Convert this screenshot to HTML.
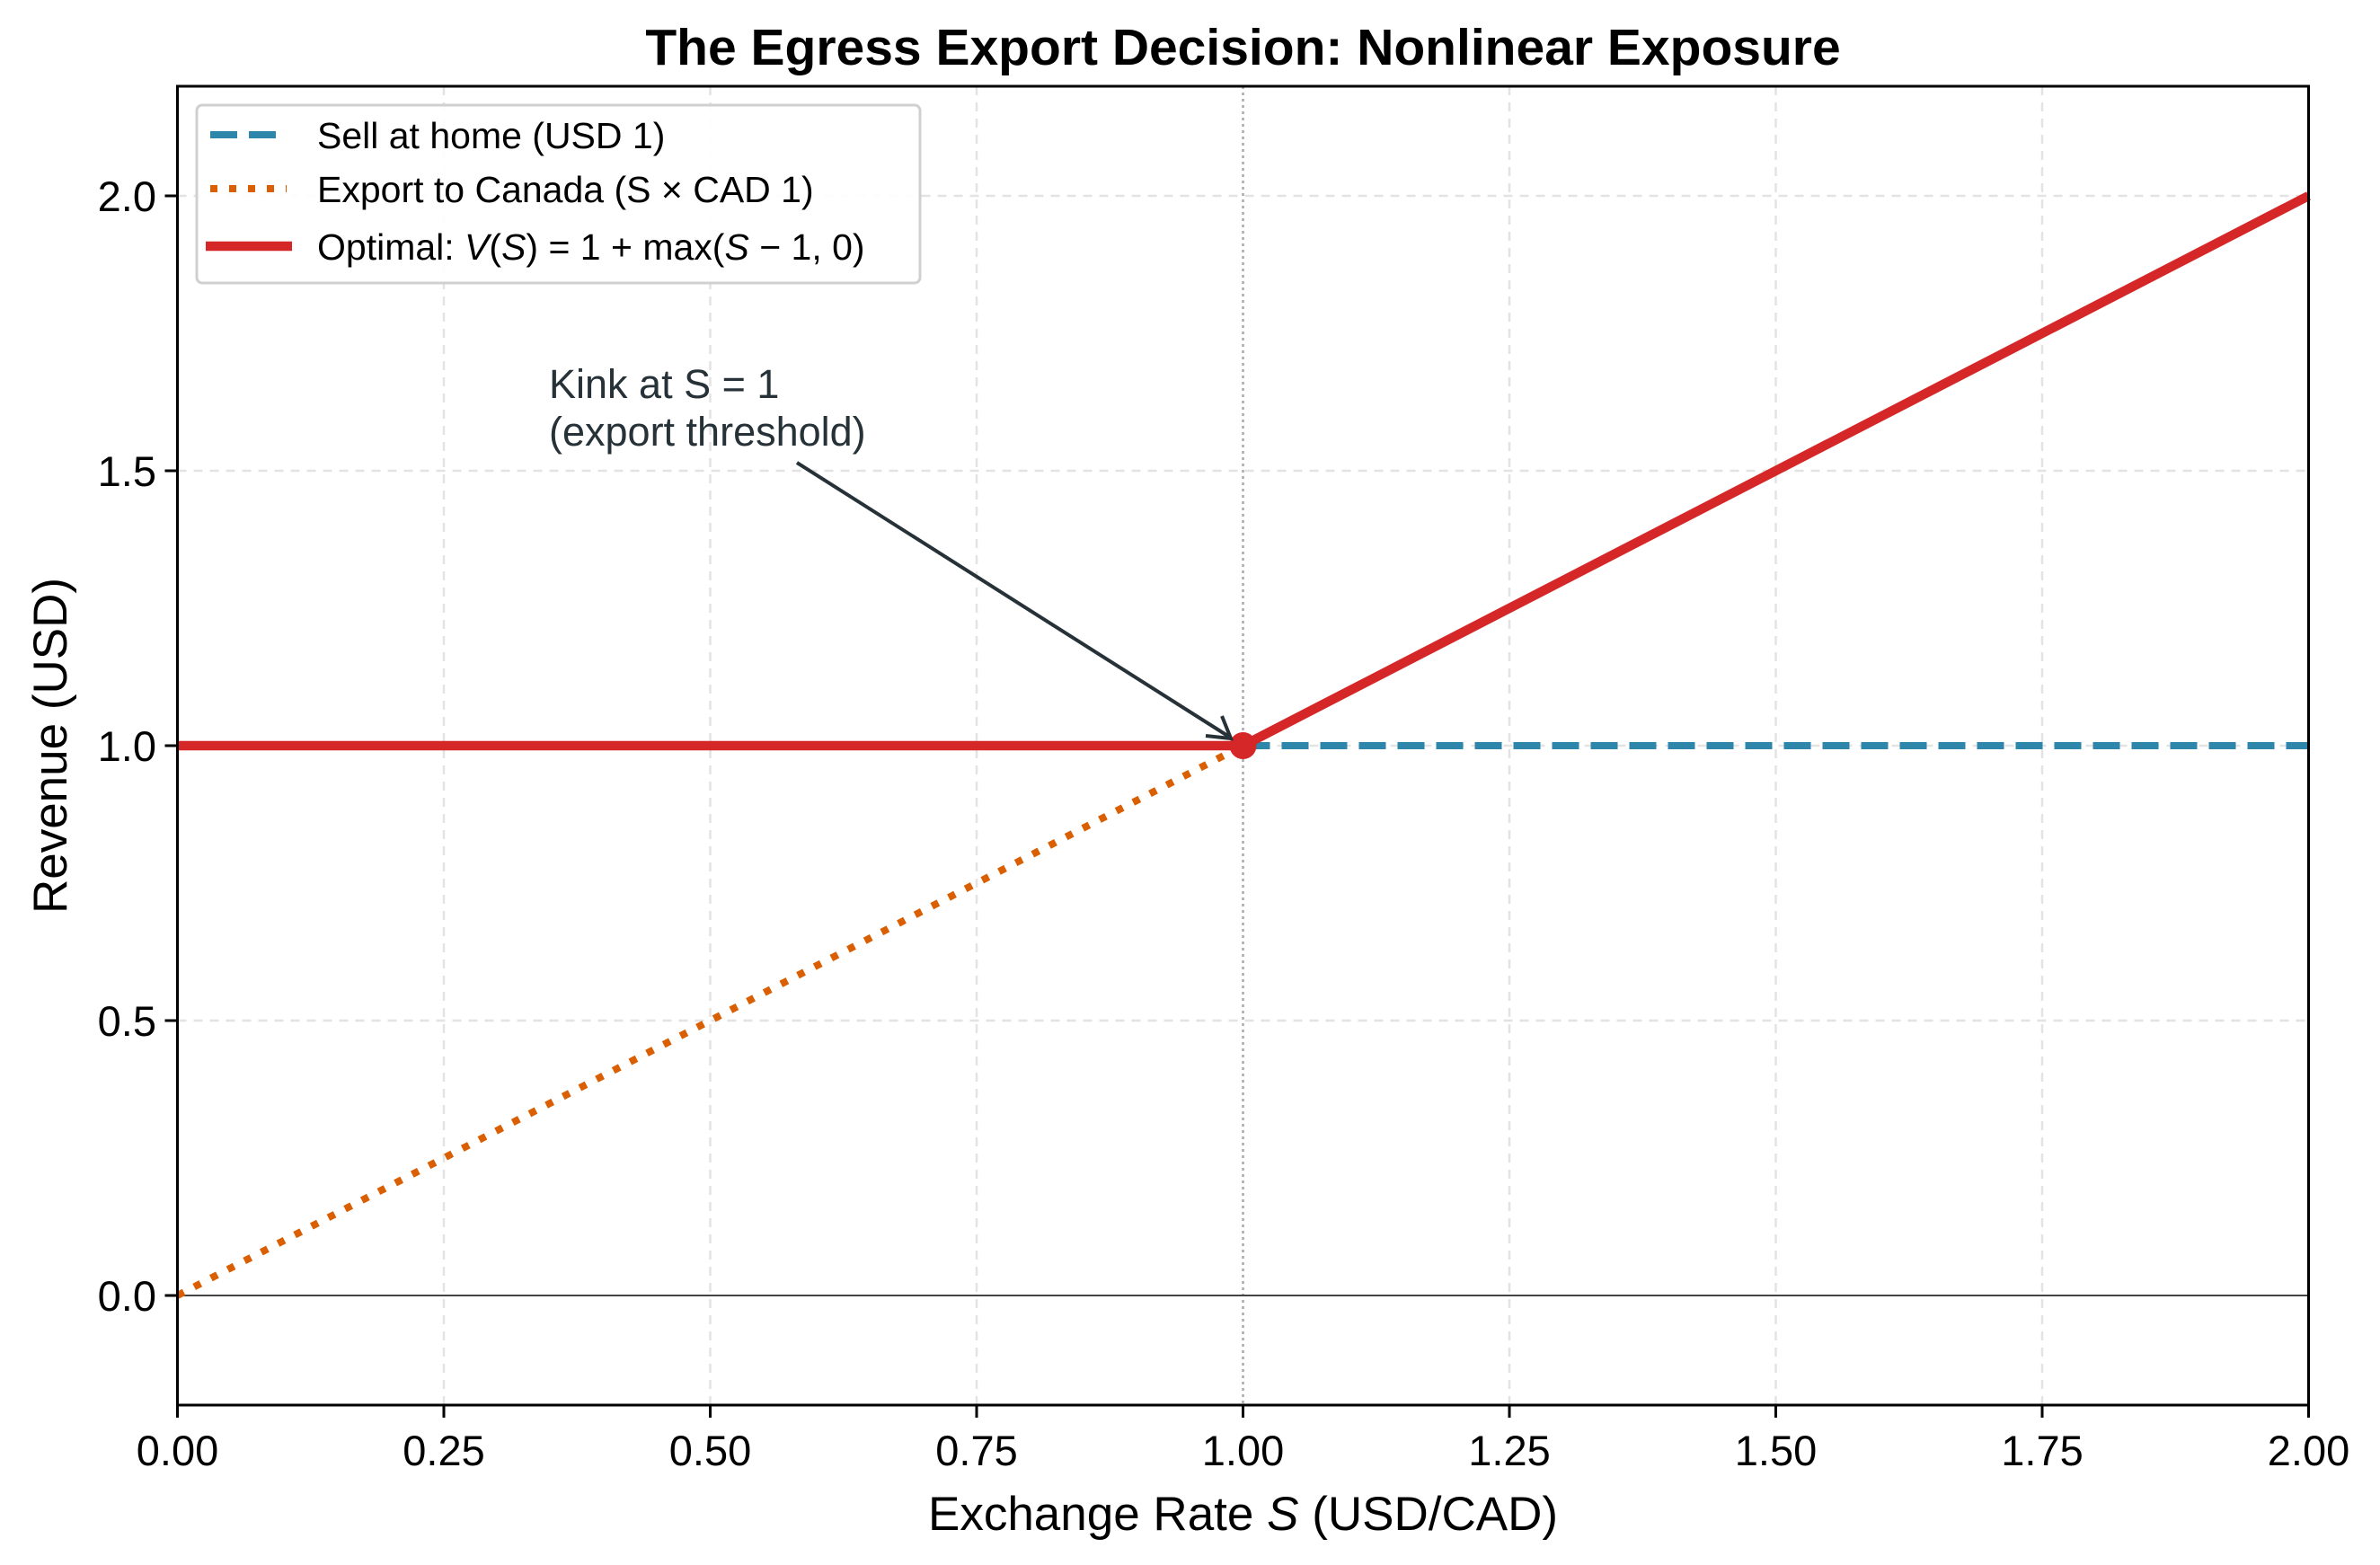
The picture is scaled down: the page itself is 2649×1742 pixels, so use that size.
<!DOCTYPE html>
<html><head><meta charset="utf-8"><style>html,body{margin:0;padding:0;background:#fff}svg{display:block}</style></head>
<body>
<svg width="2649" height="1742" viewBox="0 0 2649 1742" xmlns="http://www.w3.org/2000/svg" font-family="'Liberation Sans', Arial, sans-serif">
<rect width="2649" height="1742" fill="#fff"/>
<!-- grid -->
<g stroke="#e3e3e3" stroke-width="2.5" stroke-dasharray="10,8">
<line x1="494" y1="96" x2="494" y2="1564"/><line x1="790.5" y1="96" x2="790.5" y2="1564"/><line x1="1087" y1="96" x2="1087" y2="1564"/><line x1="1680" y1="96" x2="1680" y2="1564"/><line x1="1976.5" y1="96" x2="1976.5" y2="1564"/><line x1="2273" y1="96" x2="2273" y2="1564"/>
<line x1="197.5" y1="218" x2="2569.5" y2="218"/><line x1="197.5" y1="524" x2="2569.5" y2="524"/><line x1="197.5" y1="830" x2="2569.5" y2="830"/><line x1="197.5" y1="1136" x2="2569.5" y2="1136"/>
</g>
<line x1="1383.5" y1="96" x2="1383.5" y2="1564" stroke="#aaa" stroke-width="2.5" stroke-dasharray="3,4"/>
<line x1="197.5" y1="1442" x2="2569.5" y2="1442" stroke="#444" stroke-width="2"/>
<!-- series -->
<line x1="1383.5" y1="830" x2="2569.5" y2="830" stroke="#2e86ab" stroke-width="8" stroke-dasharray="30,13"/>
<line x1="197.5" y1="1442" x2="1383.5" y2="830" stroke="#d95f02" stroke-width="8" stroke-dasharray="8,13"/>
<polyline points="197.5,830 1383.5,830 2569.5,218" fill="none" stroke="#d62728" stroke-width="10.5"/>
<circle cx="1383.5" cy="830" r="15" fill="#d62728"/>
<!-- annotation -->
<line x1="887" y1="515" x2="1368" y2="820" stroke="#263238" stroke-width="4"/>
<polyline points="1342,819 1370,822 1360,797" fill="none" stroke="#263238" stroke-width="4"/>
<text x="611" y="443" font-size="45" fill="#263238">Kink at S = 1</text>
<text x="611" y="496" font-size="45" fill="#263238">(export threshold)</text>
<!-- axes frame -->
<rect x="197.5" y="96" width="2372" height="1468" fill="none" stroke="#000" stroke-width="3"/>
<!-- ticks -->
<g stroke="#000" stroke-width="3">
<line x1="197.5" y1="1564" x2="197.5" y2="1578"/><line x1="494" y1="1564" x2="494" y2="1578"/><line x1="790.5" y1="1564" x2="790.5" y2="1578"/><line x1="1087" y1="1564" x2="1087" y2="1578"/><line x1="1383.5" y1="1564" x2="1383.5" y2="1578"/><line x1="1680" y1="1564" x2="1680" y2="1578"/><line x1="1976.5" y1="1564" x2="1976.5" y2="1578"/><line x1="2273" y1="1564" x2="2273" y2="1578"/><line x1="2569.5" y1="1564" x2="2569.5" y2="1578"/>
<line x1="183.5" y1="218" x2="197.5" y2="218"/><line x1="183.5" y1="524" x2="197.5" y2="524"/><line x1="183.5" y1="830" x2="197.5" y2="830"/><line x1="183.5" y1="1136" x2="197.5" y2="1136"/><line x1="183.5" y1="1442" x2="197.5" y2="1442"/>
</g>
<g font-size="47" text-anchor="middle" fill="#000">
<text x="197.5" y="1631">0.00</text><text x="494" y="1631">0.25</text><text x="790.5" y="1631">0.50</text><text x="1087" y="1631">0.75</text><text x="1383.5" y="1631">1.00</text><text x="1680" y="1631">1.25</text><text x="1976.5" y="1631">1.50</text><text x="2273" y="1631">1.75</text><text x="2569.5" y="1631">2.00</text>
</g>
<g font-size="47" text-anchor="end" fill="#000">
<text x="174" y="235">2.0</text><text x="174" y="541">1.5</text><text x="174" y="847">1.0</text><text x="174" y="1153">0.5</text><text x="174" y="1459">0.0</text>
</g>
<text x="1383.5" y="1703" font-size="53" text-anchor="middle">Exchange Rate <tspan font-style="italic">S</tspan> (USD/CAD)</text>
<text transform="translate(74,830) rotate(-90)" font-size="53" text-anchor="middle">Revenue (USD)</text>
<text x="1383.5" y="72" font-size="57" font-weight="bold" text-anchor="middle">The Egress Export Decision: Nonlinear Exposure</text>
<!-- legend -->
<rect x="219" y="117" width="805" height="198" rx="6" fill="#fff" fill-opacity="0.9" stroke="#d0d0d0" stroke-width="3"/>
<line x1="234" y1="150" x2="319" y2="150" stroke="#2e86ab" stroke-width="8" stroke-dasharray="30,13"/>
<line x1="234" y1="210" x2="319" y2="210" stroke="#d95f02" stroke-width="8" stroke-dasharray="8,13"/>
<line x1="229" y1="274" x2="325" y2="274" stroke="#d62728" stroke-width="10.5"/>
<g font-size="41" fill="#000">
<text x="353" y="165">Sell at home (USD 1)</text>
<text x="353" y="225">Export to Canada (S × CAD 1)</text>
<text x="353" y="289">Optimal: <tspan font-style="italic">V</tspan>(<tspan font-style="italic">S</tspan>) = 1 + max(<tspan font-style="italic">S</tspan> − 1, 0)</text>
</g>
</svg>
</body></html>
